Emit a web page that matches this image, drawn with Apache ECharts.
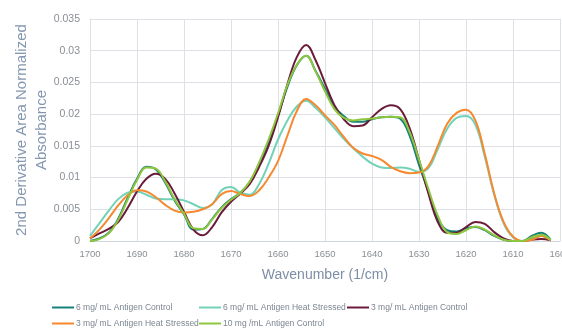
<!DOCTYPE html>
<html>
<head>
<meta charset="utf-8">
<script src="https://cdn.jsdelivr.net/npm/echarts@6/dist/echarts.min.js"></script>
<style>
  html, body { margin: 0; padding: 0; background: #fff; }
  #chart { width: 562px; height: 335px; }
</style>
</head>
<body>
<div id="chart"></div>
<script>
const wavenumbers = [1700, 1698, 1696, 1694, 1692, 1690, 1688, 1686, 1684, 1682,
  1680, 1678, 1676, 1674, 1672, 1670, 1668, 1666, 1664, 1662,
  1660, 1658, 1656, 1654, 1652, 1650, 1648, 1646, 1644, 1642,
  1640, 1638, 1636, 1634, 1632, 1630, 1628, 1626, 1624, 1622,
  1620, 1618, 1616, 1614, 1612, 1610, 1608, 1606, 1604, 1602];

const ctrl6 = [0.0000, 0.0004, 0.0013, 0.0035, 0.0068, 0.0098, 0.0117, 0.0113, 0.0092, 0.0064,
  0.0042, 0.0018, 0.0019, 0.0035, 0.0053, 0.0066, 0.0076, 0.0093, 0.0122, 0.0156,
  0.0198, 0.0243, 0.0277, 0.0292, 0.0268, 0.0240, 0.0212, 0.0197, 0.0188, 0.0188,
  0.0192, 0.0195, 0.0196, 0.0193, 0.0166, 0.0120, 0.0078, 0.0035, 0.0017, 0.0015,
  0.0020, 0.0022, 0.0017, 0.0008, 0.0002, 0.0000, 0.0000, 0.0008, 0.0013, 0.0002];

const heat6 = [0.0008, 0.0028, 0.0048, 0.0066, 0.0076, 0.0078, 0.0073, 0.0067, 0.0066, 0.0066,
  0.0064, 0.0058, 0.0052, 0.0058, 0.0080, 0.0085, 0.0076, 0.0073, 0.0090, 0.0122,
  0.0160, 0.0190, 0.0212, 0.0221, 0.0210, 0.0195, 0.0178, 0.0161, 0.0146, 0.0133,
  0.0122, 0.0116, 0.0115, 0.0116, 0.0114, 0.0109, 0.0115, 0.0145, 0.0177, 0.0194,
  0.0197, 0.0183, 0.0133, 0.0073, 0.0028, 0.0006, 0.0000, 0.0003, 0.0008, 0.0001];

const ctrl3 = [0.0004, 0.0012, 0.0019, 0.0030, 0.0052, 0.0078, 0.0098, 0.0106, 0.0098, 0.0075,
  0.0046, 0.0018, 0.0009, 0.0022, 0.0045, 0.0062, 0.0075, 0.0090, 0.0117, 0.0150,
  0.0195, 0.0247, 0.0290, 0.0309, 0.0285, 0.0249, 0.0214, 0.0192, 0.0181, 0.0182,
  0.0195, 0.0208, 0.0214, 0.0208, 0.0178, 0.0128, 0.0075, 0.0030, 0.0013, 0.0013,
  0.0022, 0.0030, 0.0027, 0.0014, 0.0004, 0.0000, 0.0000, 0.0002, 0.0003, 0.0001];

const heat3 = [0.0004, 0.0018, 0.0036, 0.0056, 0.0072, 0.0080, 0.0078, 0.0069, 0.0057, 0.0048,
  0.0045, 0.0046, 0.0050, 0.0058, 0.0074, 0.0079, 0.0074, 0.0071, 0.0080, 0.0100,
  0.0126, 0.0166, 0.0205, 0.0224, 0.0214, 0.0198, 0.0183, 0.0164, 0.0147, 0.0138,
  0.0134, 0.0128, 0.0117, 0.0110, 0.0107, 0.0108, 0.0118, 0.0150, 0.0185, 0.0202,
  0.0207, 0.0190, 0.0137, 0.0075, 0.0030, 0.0007, 0.0000, 0.0002, 0.0008, 0.0001];

const ctrl10 = [0.0000, 0.0003, 0.0012, 0.0033, 0.0065, 0.0096, 0.0116, 0.0114, 0.0094, 0.0066,
  0.0043, 0.0020, 0.0019, 0.0034, 0.0052, 0.0065, 0.0076, 0.0094, 0.0124, 0.0160,
  0.0201, 0.0246, 0.0278, 0.0292, 0.0267, 0.0236, 0.0208, 0.0194, 0.0190, 0.0192,
  0.0193, 0.0195, 0.0196, 0.0195, 0.0172, 0.0128, 0.0082, 0.0040, 0.0014, 0.0011,
  0.0017, 0.0023, 0.0018, 0.0009, 0.0002, 0.0000, 0.0000, 0.0006, 0.0010, 0.0002];

const seriesNames = ['6 mg/ mL Antigen Control', '6 mg/ mL Antigen Heat Stressed',
  '3 mg/ mL Antigen Control', '3 mg/ mL Antigen Heat Stressed', '10 mg /mL Antigen Control'];
const seriesValues = [ctrl6, heat6, ctrl3, heat3, ctrl10];
const colors = ['#16807a', '#72d2b8', '#6a1b3a', '#f6892f', '#8dc63f'];

const FONT = "'Liberation Sans', Arial, sans-serif";

// legend sits in fixed columns like the original spreadsheet chart
const legendSlots = [[52, 303], [199, 303], [347, 303], [52, 319], [199, 319]];

const chart = echarts.init(document.getElementById('chart'));

const option = {
  animation: false,
  color: colors,
  grid: { left: 90, right: 2, top: 19, bottom: 94, containLabel: false, outerBoundsMode: 'none' },
  legend: seriesNames.map((name, i) => ({
    data: [name],
    left: legendSlots[i][0],
    top: legendSlots[i][1],
    icon: 'rect',
    itemWidth: 22,
    itemHeight: 2,
    itemGap: 2,
    padding: 0,
    textStyle: { color: '#7b8590', fontSize: 8.5, fontFamily: FONT, padding: [0, 0, 0, -3] },
  })),
  xAxis: {
    type: 'value',
    inverse: true,
    min: 1600,
    max: 1700,
    interval: 10,
    name: 'Wavenumber (1/cm)',
    nameLocation: 'middle',
    nameGap: 27,
    nameMoveOverlap: false,
    nameTextStyle: { color: '#7d8fa6', fontSize: 14, fontFamily: FONT },
    axisLine: { lineStyle: { color: '#cfd5dd', width: 1 } },
    axisTick: { show: false },
    axisLabel: { color: '#8a8f96', fontSize: 9.5, fontFamily: FONT, margin: 8, formatter: (v) => String(v) },
    splitLine: { show: true, lineStyle: { color: '#dde1e6', width: 1 } },
  },
  yAxis: {
    type: 'value',
    min: 0,
    max: 0.035,
    interval: 0.005,
    name: '2nd Derivative Area Normalized\nAbsorbance',
    nameLocation: 'middle',
    nameGap: 38,
    nameMoveOverlap: false,
    nameTextStyle: { color: '#8497b0', fontSize: 15, fontFamily: FONT, lineHeight: 20 },
    axisLine: { show: true, lineStyle: { color: '#dde1e6', width: 1 } },
    axisTick: { show: false },
    axisLabel: { color: '#8a8f96', fontSize: 10.5, fontFamily: FONT, margin: 10 },
    splitLine: { show: true, lineStyle: { color: '#dde1e6', width: 1 } },
  },
  series: seriesNames.map((name, i) => ({
    name: name,
    type: 'line',
    smooth: 0.4,
    symbol: 'none',
    lineStyle: { width: 2, color: colors[i] },
    data: wavenumbers.map((w, k) => [w, seriesValues[i][k]]),
  })),
};

chart.setOption(option);
</script>
</body>
</html>
